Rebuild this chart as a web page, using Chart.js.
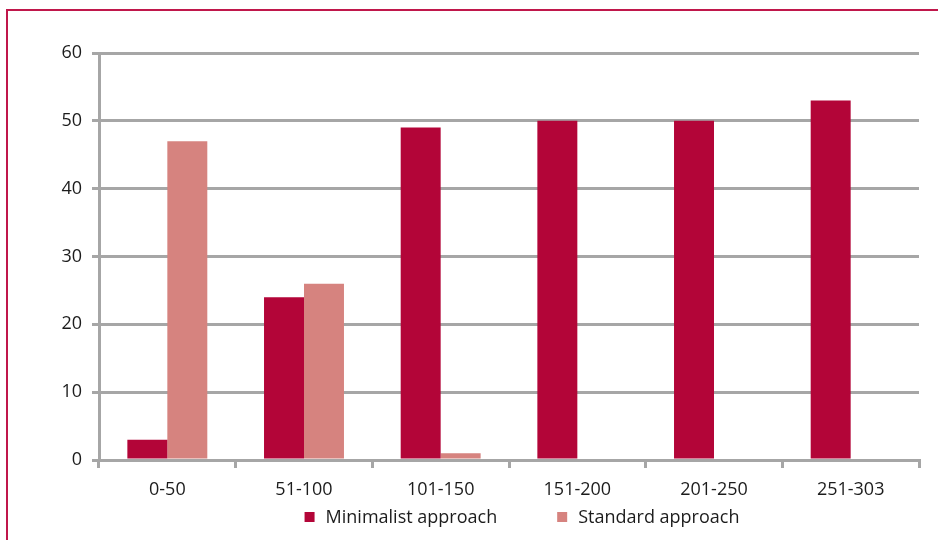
<!DOCTYPE html>
<html>
<head>
<meta charset="utf-8">
<script src="https://cdn.jsdelivr.net/npm/chart.js@4"></script>
<style>
  html, body { margin: 0; padding: 0; background: #fff; }
  #wrap { position: relative; width: 938px; height: 540px; overflow: hidden; }
  #frame { position: absolute; left: 6px; top: 9px; width: 1000px; height: 600px; border: 2px solid #c0174b; box-sizing: border-box; }
  canvas { position: absolute; left: 0; top: 0; }
</style>
</head>
<body>
<div id="wrap">
  <div id="frame"></div>
  <canvas id="chart" width="938" height="540"></canvas>
</div>
<script>
// values
const categories = ['0-50', '51-100', '101-150', '151-200', '201-250', '251-303'];
const minimalist = [3, 24, 49, 50, 50, 53];
const standard = [47, 26, 1, 0, 0, 0];
const yTicks = [0, 10, 20, 30, 40, 50, 60];

const gridGrey = '#a6a6a6';
const textColor = '#1c1c1c';
const fontFamily = 'Open Sans';

// legend drawn by hand so the gap between the two items can match
const bottomLegend = {
    id: 'bottomLegend',
    afterDraw(chart) {
        const c = chart.ctx;
        const sets = chart.data.datasets;
        c.save();
        c.font = '18px "' + fontFamily + '"';
        c.textBaseline = 'middle';
        const box = 10, textGap = 11, itemGap = 60;
        const widths = sets.map(d => box + textGap + c.measureText(d.label).width);
        const total = widths.reduce((a, b) => a + b, 0) + itemGap * (sets.length - 1);
        let x = 522 - total / 2;
        const y = 517;
        sets.forEach((d, i) => {
            c.fillStyle = d.backgroundColor;
            c.fillRect(x, y - box / 2, box, box);
            c.fillStyle = textColor;
            c.fillText(d.label, x + box + textGap, y + 1);
            x += widths[i] + itemGap;
        });
        c.restore();
    }
};

const ctx = document.getElementById('chart').getContext('2d');
new Chart(ctx, {
    type: 'bar',
    data: {
        labels: categories,
        datasets: [
            { label: 'Minimalist approach', data: minimalist, backgroundColor: '#b30538' },
            { label: 'Standard approach', data: standard, backgroundColor: '#d6837f' }
        ]
    },
    options: {
        responsive: false,
        animation: false,
        categoryPercentage: 0.585,
        barPercentage: 1,
        layout: { padding: { left: 0, right: 19, top: 53, bottom: 30 } },
        plugins: {
            tooltip: { enabled: false },
            legend: { display: false }
        },
        scales: {
            x: {
                afterFit: function(scale) { scale.height = 50; },
                grid: { drawOnChartArea: false, drawTicks: true, tickLength: 8, color: gridGrey, lineWidth: 3 },
                border: { display: true, color: gridGrey, width: 3 },
                ticks: { color: textColor, font: { family: fontFamily, size: 18 }, padding: 11 }
            },
            y: {
                min: 0,
                max: 60,
                afterFit: function(scale) { scale.width = 99; },
                afterBuildTicks: function(scale) { scale.ticks = yTicks.map(v => ({ value: v })); },
                grid: { color: gridGrey, lineWidth: 3, tickLength: 7 },
                border: { display: true, color: gridGrey, width: 3 },
                ticks: { color: textColor, font: { family: fontFamily, size: 18 }, padding: 10 }
            }
        }
    },
    plugins: [bottomLegend]
});
</script>
</body>
</html>
